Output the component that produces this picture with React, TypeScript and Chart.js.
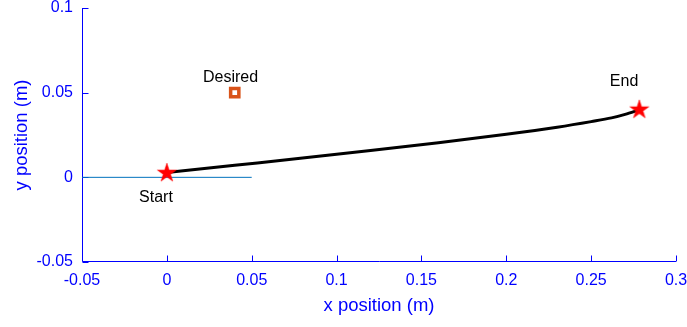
import React, { useEffect, useRef } from 'react';
import { Chart, registerables } from 'chart.js';

Chart.register(...registerables);

// Axis ticks
const xTicks = [-0.05, 0, 0.05, 0.1, 0.15, 0.2, 0.25, 0.3];
const xTickLabels = ['-0.05', '0', '0.05', '0.1', '0.15', '0.2', '0.25', '0.3'];
const yTicks = [-0.05, 0, 0.05, 0.1];
const yTickLabels = ['-0.05', '0', '0.05', '0.1'];

// Trajectory
const pathX = [0, 0.04, 0.08, 0.12, 0.16, 0.2, 0.23, 0.25, 0.262, 0.27, 0.2784];
const pathY = [0.0028, 0.0071, 0.0114, 0.0158, 0.0204, 0.0254, 0.0296, 0.0329, 0.0351, 0.0372, 0.0399];

// Reference (horizontal) line
const refX = [-0.05, 0.05];
const refY = [0, 0];

// Markers
const startXY = [0, 0.0025];
const endXY = [0.2784, 0.0399];
const desiredXY = [0.04, 0.05];

// Text annotations
const noteTexts = ['Desired', 'Start', 'End'];
const noteX = [0.0375, -0.0064, 0.2694];
const noteY = [0.0565, -0.0144, 0.0539];

const BLUE = '#0000ff';
const FAMILY = "'Liberation Sans', Arial, Helvetica, sans-serif";

function makeStar(R: number): HTMLCanvasElement {
  const size = Math.ceil(R) * 2 + 4;
  const c = document.createElement('canvas');
  c.width = size;
  c.height = size;
  const ctx = c.getContext('2d')!;
  const cx = size / 2;
  const cy = size / 2;
  const r = R * 0.382;
  ctx.beginPath();
  for (let k = 0; k < 10; k++) {
    const ang = -Math.PI / 2 + (k * Math.PI) / 5;
    const rad = k % 2 === 0 ? R : r;
    const px = cx + rad * Math.cos(ang);
    const py = cy + rad * Math.sin(ang);
    if (k === 0) ctx.moveTo(px, py);
    else ctx.lineTo(px, py);
  }
  ctx.closePath();
  ctx.fillStyle = '#ff0000';
  ctx.fill();
  ctx.strokeStyle = '#ff0000';
  ctx.lineWidth = 0.5;
  ctx.stroke();
  return c;
}

const axesPlugin = {
  id: 'matlabAxes',
  beforeDatasetsDraw(chart: any) {
    const { ctx, chartArea, scales } = chart;
    const xs = scales.x;
    const ys = scales.y;
    const L = Math.round(chartArea.left) + 0.5;
    const B = Math.round(chartArea.bottom) - 0.5;
    ctx.save();
    ctx.strokeStyle = BLUE;
    ctx.lineWidth = 1;
    ctx.beginPath();
    ctx.moveTo(L, Math.round(chartArea.top));
    ctx.lineTo(L, B);
    ctx.lineTo(Math.round(chartArea.right), B);
    xTicks.forEach((v) => {
      const px = Math.round(xs.getPixelForValue(v)) + 0.5;
      ctx.moveTo(px, B);
      ctx.lineTo(px, B - 6);
    });
    yTicks.forEach((v) => {
      const py = Math.round(ys.getPixelForValue(v)) + 0.5;
      ctx.moveTo(L, py);
      ctx.lineTo(L + 6, py);
    });
    ctx.stroke();
    ctx.restore();
  },
  afterDatasetsDraw(chart: any) {
    const { ctx, scales } = chart;
    ctx.save();
    ctx.fillStyle = '#000000';
    ctx.font = `16px ${FAMILY}`;
    ctx.textAlign = 'center';
    ctx.textBaseline = 'alphabetic';
    noteTexts.forEach((t, i) => {
      ctx.fillText(t, scales.x.getPixelForValue(noteX[i]), scales.y.getPixelForValue(noteY[i]));
    });
    ctx.restore();
  },
};

export default function App() {
  const ref = useRef<HTMLCanvasElement>(null);
  useEffect(() => {
    const star = makeStar(10);
    const chart = new Chart(ref.current!, {
      type: 'scatter',
      data: {
        datasets: [
          {
            data: [{ x: startXY[0], y: startXY[1] }, { x: endXY[0], y: endXY[1] }],
            pointStyle: star as any,
            pointRadius: 10,
            showLine: false,
            order: 0,
          },
          {
            data: [{ x: desiredXY[0], y: desiredXY[1] }],
            pointStyle: 'rect',
            pointRadius: 5.8,
            pointBorderWidth: 3.5,
            pointBorderColor: '#D95319',
            pointBackgroundColor: '#ffffff',
            showLine: false,
            order: 1,
          },
          {
            data: pathX.map((x, i) => ({ x, y: pathY[i] })),
            showLine: true,
            borderColor: '#000000',
            borderWidth: 3,
            pointRadius: 0,
            cubicInterpolationMode: 'monotone',
            order: 2,
          },
          {
            data: refX.map((x, i) => ({ x, y: refY[i] })),
            showLine: true,
            borderColor: '#0072BD',
            borderWidth: 1,
            pointRadius: 0,
            order: 3,
          },
        ],
      } as any,
      options: {
        animation: false,
        responsive: false,
        devicePixelRatio: 1,
        layout: { autoPadding: false, padding: { top: 8, right: 11, left: 0, bottom: 0 } },
        plugins: { legend: { display: false }, tooltip: { enabled: false } },
        scales: {
          x: {
            type: 'linear',
            min: -0.05,
            max: 0.3,
            afterBuildTicks: (s: any) => {
              s.ticks = xTicks.map((v) => ({ value: v }));
            },
            afterFit: (s: any) => {
              s.height = 65;
              s.paddingLeft = 0;
              s.paddingRight = 0;
            },
            grid: { display: false, drawTicks: false },
            border: { display: false },
            ticks: {
              callback: (_v: any, i: number) => xTickLabels[i],
              color: BLUE,
              font: { size: 16, family: FAMILY },
              padding: 9,
              maxRotation: 0,
              autoSkip: false,
            },
            title: {
              display: true,
              text: 'x position (m)',
              color: BLUE,
              font: { size: 18.5, family: FAMILY },
              padding: { top: 0, bottom: 10 },
            },
          },
          y: {
            type: 'linear',
            min: -0.05,
            max: 0.1,
            afterBuildTicks: (s: any) => {
              s.ticks = yTicks.map((v) => ({ value: v }));
            },
            afterFit: (s: any) => {
              s.width = 82;
              s.paddingTop = 0;
              s.paddingBottom = 0;
            },
            grid: { display: false, drawTicks: false },
            border: { display: false },
            ticks: {
              callback: (_v: any, i: number) => yTickLabels[i],
              color: BLUE,
              font: { size: 16, family: FAMILY, lineHeight: 1 },
              padding: 9,
              autoSkip: false,
            },
            title: {
              display: true,
              text: 'y position (m)',
              color: BLUE,
              font: { size: 18.5, family: FAMILY },
              padding: { top: 11, bottom: 0 },
            },
          },
        },
      } as any,
      plugins: [axesPlugin],
    });
    return () => chart.destroy();
  }, []);
  return (
    <div style={{ position: 'fixed', left: 0, top: 0, width: 687, height: 327, background: '#fff' }}>
      <canvas ref={ref} width={687} height={327} style={{ display: 'block', width: 687, height: 327 }} />
    </div>
  );
}
